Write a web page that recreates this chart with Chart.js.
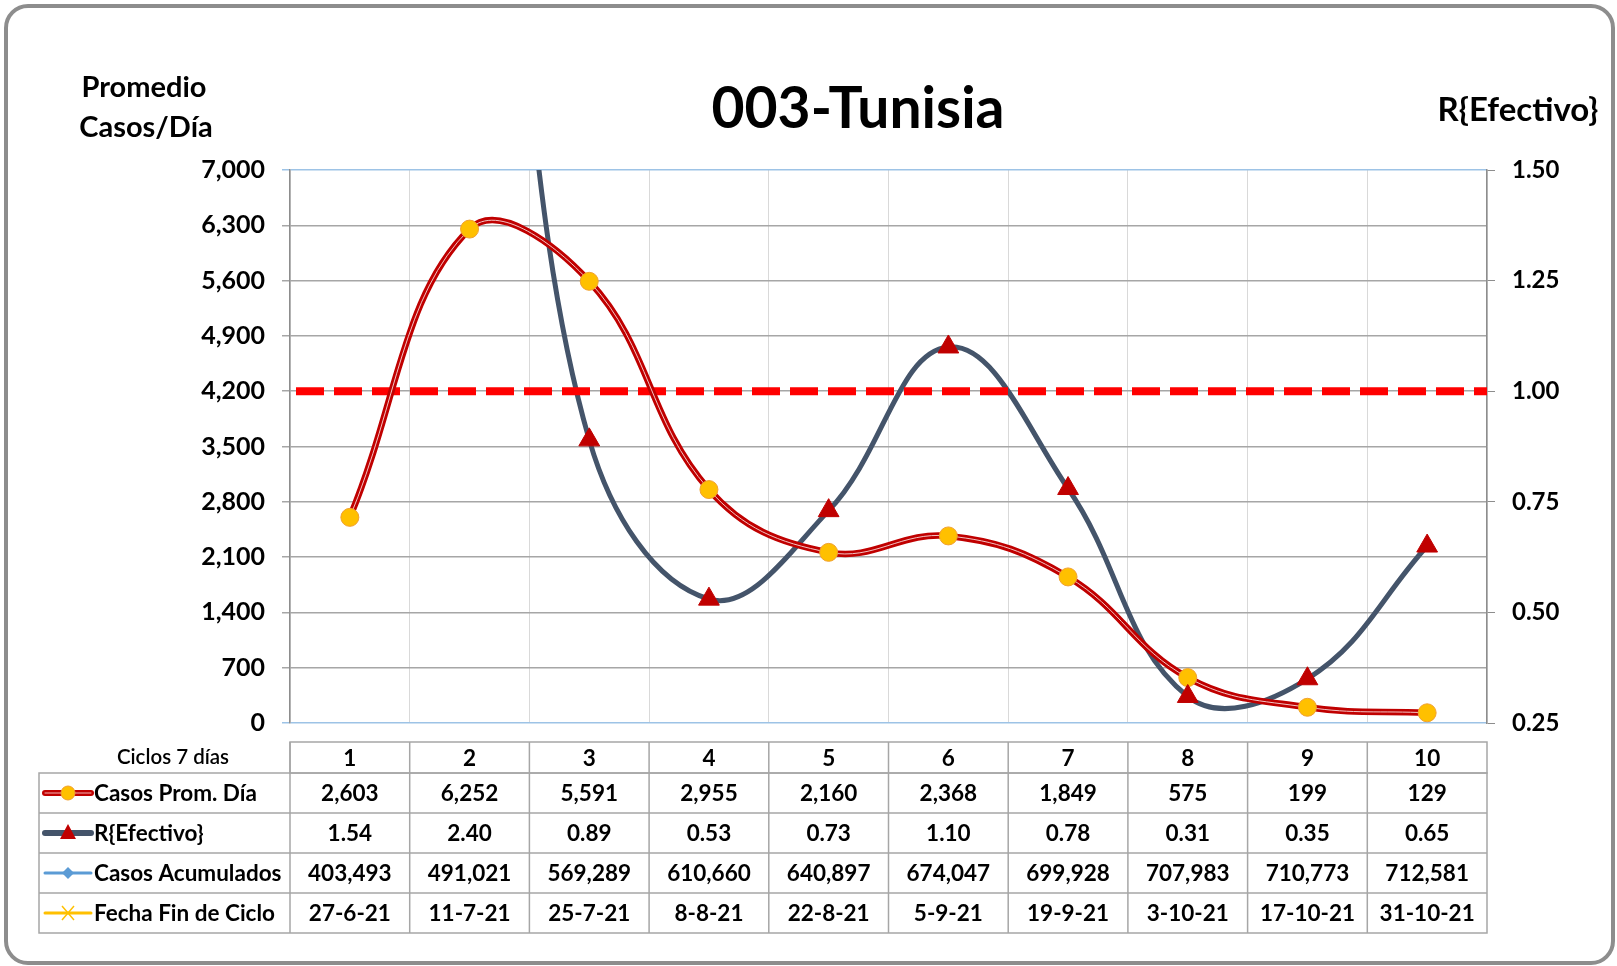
<!DOCTYPE html>
<html>
<head>
<meta charset="utf-8">
<script src="https://cdn.jsdelivr.net/npm/chart.js@4.4.0/dist/chart.umd.min.js"></script>
<style>
html, body { margin: 0; padding: 0; background: #fff; }
#wrap { position: relative; width: 1617px; height: 966px; overflow: hidden; }
#marco { position: absolute; left: 4px; top: 4px; width: 1603px; height: 953px; border: 4px solid #8d8d8d; border-radius: 24px; }
#grafico { position: absolute; left: 0; top: 0; }
.txt { position: absolute; font-family: Lato, "Noto Sans", sans-serif; font-weight: bold; color: #000; white-space: nowrap; transform: translate(-50%, -50%); }
</style>
</head>
<body>
<div id="wrap">
  <div id="marco"></div>
  <canvas id="grafico" width="1617" height="966"></canvas>
  <div class="txt" style="left:858px; top:106px; font-size:57px;">003-Tunisia</div>
  <div class="txt" style="left:144px; top:85px; font-size:29px;">Promedio</div>
  <div class="txt" style="left:146px; top:125px; font-size:29px;">Casos/Día</div>
  <div class="txt" style="left:1518px; top:108px; font-size:33px;">R{Efectivo}</div>
</div>
<script>
// datos
const ciclos = ['1', '2', '3', '4', '5', '6', '7', '8', '9', '10'];
const casosProm = [2603, 6252, 5591, 2955, 2160, 2368, 1849, 575, 199, 129];
const rEfectivo = [1.54, 2.40, 0.89, 0.53, 0.73, 1.10, 0.78, 0.31, 0.35, 0.65];
const casosAcum = [403493, 491021, 569289, 610660, 640897, 674047, 699928, 707983, 710773, 712581];
const fechaFin = ['27-6-21', '11-7-21', '25-7-21', '8-8-21', '22-8-21', '5-9-21', '19-9-21', '3-10-21', '17-10-21', '31-10-21'];
const filas = ['Casos Prom. Día', 'R{Efectivo}', 'Casos Acumulados', 'Fecha Fin de Ciclo'];
const rUmbral = 1;

const FUENTE = 'Lato, "Noto Sans", sans-serif';
const ROJO = '#c00000';
const GRIS_AZUL = '#44546a';
const AMARILLO = '#ffc000';

function miles(v) {
  return Number(v).toLocaleString('en-US');
}

// linea roja discontinua en R = 1, dibujada despues de la linea de R
const umbral = {
  id: 'umbral',
  afterDatasetDraw(chart, args) {
    if (args.index !== 4) return;
    const ctx = chart.ctx, a = chart.chartArea;
    const y = chart.scales.y1.getPixelForValue(rUmbral);
    ctx.save();
    ctx.beginPath();
    ctx.rect(a.left, a.top, a.right - a.left, a.bottom - a.top);
    ctx.clip();
    ctx.strokeStyle = '#ff0000';
    ctx.lineWidth = 8;
    ctx.setLineDash([28, 10]);
    ctx.beginPath();
    ctx.moveTo(a.left + 6, y);
    ctx.lineTo(a.right, y);
    ctx.stroke();
    ctx.restore();
  }
};

function muestra(ctx, i, x0, x1, y) {
  const xm = (x0 + x1) / 2;
  ctx.save();
  ctx.lineCap = 'round';
  if (i === 0) {
    ctx.strokeStyle = ROJO; ctx.lineWidth = 6;
    ctx.beginPath(); ctx.moveTo(x0, y); ctx.lineTo(x1, y); ctx.stroke();
    ctx.strokeStyle = '#f4b4b4'; ctx.lineWidth = 1;
    ctx.beginPath(); ctx.moveTo(x0, y); ctx.lineTo(x1, y); ctx.stroke();
    ctx.fillStyle = AMARILLO; ctx.strokeStyle = '#f0a030'; ctx.lineWidth = 1;
    ctx.beginPath(); ctx.arc(xm, y, 7, 0, Math.PI * 2); ctx.fill(); ctx.stroke();
  } else if (i === 1) {
    ctx.strokeStyle = GRIS_AZUL; ctx.lineWidth = 6;
    ctx.beginPath(); ctx.moveTo(x0, y); ctx.lineTo(x1, y); ctx.stroke();
    ctx.fillStyle = ROJO;
    ctx.beginPath(); ctx.moveTo(xm, y - 9); ctx.lineTo(xm + 8, y + 6); ctx.lineTo(xm - 8, y + 6); ctx.closePath(); ctx.fill();
  } else if (i === 2) {
    ctx.strokeStyle = '#5b9bd5'; ctx.lineWidth = 3;
    ctx.beginPath(); ctx.moveTo(x0, y); ctx.lineTo(x1, y); ctx.stroke();
    ctx.fillStyle = '#5b9bd5';
    ctx.beginPath(); ctx.moveTo(xm, y - 6); ctx.lineTo(xm + 6, y); ctx.lineTo(xm, y + 6); ctx.lineTo(xm - 6, y); ctx.closePath(); ctx.fill();
  } else {
    ctx.strokeStyle = AMARILLO; ctx.lineWidth = 3;
    ctx.beginPath(); ctx.moveTo(x0, y); ctx.lineTo(x1, y); ctx.stroke();
    ctx.lineWidth = 1.5; ctx.lineCap = 'butt';
    ctx.beginPath();
    ctx.moveTo(xm - 6, y - 7); ctx.lineTo(xm + 6, y + 7);
    ctx.moveTo(xm + 6, y - 7); ctx.lineTo(xm - 6, y + 7);
    ctx.stroke();
  }
  ctx.restore();
}

// tabla de datos bajo el grafico, alineada con la escala x
const tabla = {
  id: 'tabla',
  afterDraw(chart) {
    const ctx = chart.ctx, xs = chart.scales.x;
    const n = ciclos.length;
    const medio = (xs.getPixelForValue(1) - xs.getPixelForValue(0)) / 2;
    const bordes = [];
    for (let i = 0; i <= n; i++) bordes.push(xs.getPixelForValue(i) - medio);
    const izq = 39;
    const yFil = [742, 773, 813, 853, 893, 933];
    const valores = [
      casosProm.map(miles),
      rEfectivo.map(v => v.toFixed(2)),
      casosAcum.map(miles),
      fechaFin
    ];

    ctx.save();
    ctx.strokeStyle = '#a6a6a6';
    ctx.lineWidth = 1.5;
    // encabezado
    ctx.strokeRect(bordes[0], yFil[0], bordes[n] - bordes[0], yFil[1] - yFil[0]);
    ctx.strokeRect(izq, yFil[1], bordes[n] - izq, yFil[5] - yFil[1]);
    ctx.beginPath();
    for (let r = 2; r < 5; r++) { ctx.moveTo(izq, yFil[r]); ctx.lineTo(bordes[n], yFil[r]); }
    for (let i = 0; i < n; i++) { ctx.moveTo(bordes[i], yFil[0]); ctx.lineTo(bordes[i], yFil[5]); }
    ctx.stroke();

    ctx.fillStyle = '#000';
    ctx.textBaseline = 'middle';
    ctx.textAlign = 'center';
    ctx.font = '600 20.5px ' + FUENTE;
    ctx.fillText('Ciclos 7 días', 173, (yFil[0] + yFil[1]) / 2);
    ctx.font = 'bold 22.5px ' + FUENTE;
    for (let i = 0; i < n; i++) {
      const cx = xs.getPixelForValue(i);
      ctx.fillText(ciclos[i], cx, (yFil[0] + yFil[1]) / 2 + 1);
      for (let r = 0; r < 4; r++) {
        ctx.fillText(valores[r][i], cx, (yFil[r + 1] + yFil[r + 2]) / 2 + 1);
      }
    }
    ctx.textAlign = 'left';
    ctx.font = 'bold 22.5px ' + FUENTE;
    for (let r = 0; r < 4; r++) {
      const cy = (yFil[r + 1] + yFil[r + 2]) / 2;
      muestra(ctx, r, 45, 91, cy);
      ctx.fillText(filas[r], 94, cy + 1);
    }
    ctx.restore();
  }
};

const cfg = {
  type: 'line',
  data: {
    labels: ciclos,
    datasets: [
      { // 0 puntos de casos
        data: casosProm, yAxisID: 'y', showLine: false, order: 1,
        pointRadius: 9, pointHoverRadius: 9,
        pointBackgroundColor: AMARILLO, pointBorderColor: '#f0a030', pointBorderWidth: 1
      },
      { // 1 triangulos de R
        data: rEfectivo, yAxisID: 'y1', showLine: false, order: 0,
        pointStyle: 'triangle', pointRadius: 12, pointHoverRadius: 12,
        pointBackgroundColor: ROJO, pointBorderColor: ROJO, pointBorderWidth: 1
      },
      { // 2 linea fina interior de casos
        data: casosProm, yAxisID: 'y', order: 2,
        borderColor: '#f3c4c4', borderWidth: 1, tension: 0.4, pointRadius: 0
      },
      { // 3 linea gruesa de casos
        data: casosProm, yAxisID: 'y', order: 3,
        borderColor: ROJO, borderWidth: 6.5, tension: 0.4, pointRadius: 0
      },
      { // 4 linea de R
        data: rEfectivo, yAxisID: 'y1', order: 4,
        borderColor: GRIS_AZUL, borderWidth: 5, tension: 0.4, pointRadius: 0
      }
    ]
  },
  options: {
    responsive: false,
    animation: false,
    events: [],
    layout: { padding: { left: 0, right: 0, top: 170, bottom: 243 } },
    elements: { line: { capBezierPoints: false, borderCapStyle: 'round' } },
    plugins: { legend: { display: false }, tooltip: { enabled: false } },
    scales: {
      x: {
        offset: true,
        grid: { offset: true, color: '#d9d9d9', lineWidth: 1, drawTicks: false },
        border: { display: false },
        ticks: { display: false },
        afterFit(s) { s.height = 0; }
      },
      y: {
        position: 'left',
        min: 0, max: 7000,
        ticks: {
          stepSize: 700, padding: 17, color: '#000',
          font: { family: FUENTE, size: 25, weight: 'bold' },
          callback: v => miles(v)
        },
        grid: {
          tickLength: 8,
          color: c => (c.tick && (c.tick.value === 0 || c.tick.value === 7000)) ? '#9dc3e6' : '#a6a6a6',
          lineWidth: 1.5
        },
        border: { color: '#8d8d8d', width: 1.5 },
        afterFit(s) { s.width = 290; }
      },
      y1: {
        position: 'right',
        min: 0.25, max: 1.5,
        ticks: {
          stepSize: 0.25, padding: 17, color: '#000',
          font: { family: FUENTE, size: 24, weight: 'bold' },
          callback: v => Number(v).toFixed(2)
        },
        grid: { drawOnChartArea: false, tickLength: 8, color: '#8d8d8d' },
        border: { color: '#8d8d8d', width: 1.5 },
        afterFit(s) { s.width = 130; }
      }
    }
  },
  plugins: [umbral, tabla]
};

new Chart(document.getElementById('grafico').getContext('2d'), cfg);
</script>
</body>
</html>
